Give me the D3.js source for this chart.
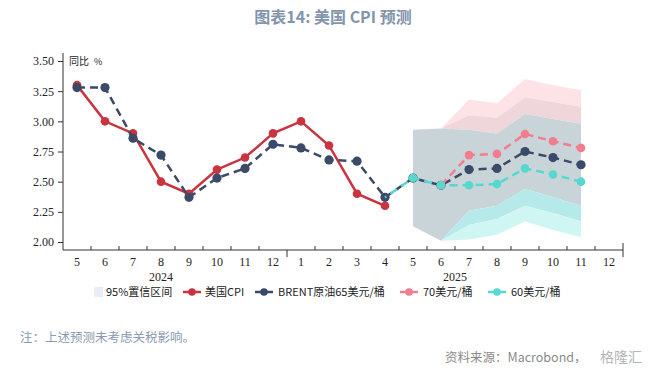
<!DOCTYPE html>
<html><head><meta charset="utf-8">
<script src="https://cdn.jsdelivr.net/npm/d3@7"></script>
<style>body{margin:0;background:#fff} svg{display:block}</style>
</head><body><svg id="c" width="666" height="378"></svg>
<script>
// ---------- data ----------
const months = ["5","6","7","8","9","10","11","12","1","2","3","4","5","6","7","8","9","10","11","12"];
const years = ["2024","2025"];
const yTicks = [2.00, 2.25, 2.50, 2.75, 3.00, 3.25, 3.50];
// actual CPI, 2024-05 .. 2025-04
const cpi = [3.3, 3.0, 2.9, 2.5, 2.4, 2.6, 2.7, 2.9, 3.0, 2.8, 2.4, 2.3];
// Brent 65 USD/bbl scenario, 2024-05 .. 2025-11
const brent65 = [3.28, 3.28, 2.86, 2.72, 2.37, 2.53, 2.61, 2.81, 2.78, 2.68, 2.67, 2.37, 2.53, 2.47, 2.60, 2.61, 2.75, 2.70, 2.64];
// 70 USD/bbl scenario, 2025-06 .. 2025-11
const start70 = 13;
const brent70 = [2.47, 2.72, 2.73, 2.895, 2.835, 2.78];
// 60 USD/bbl scenario, 2025-04 .. 2025-11
const start60 = 11;
const brent60 = [2.37, 2.53, 2.47, 2.47, 2.48, 2.61, 2.56, 2.50];
// 95% confidence bands, 2025-05 .. 2025-11
const bandStart = 12;
const band70Upper = [2.93, 2.94, 3.18, 3.15, 3.35, 3.30, 3.26];
const band70Lower = [2.13, 2.01, 2.26, 2.30, 2.44, 2.37, 2.30];
const band65Upper = [2.93, 2.94, 3.05, 3.03, 3.20, 3.16, 3.12];
const band65Lower = [2.13, 2.01, 2.14, 2.19, 2.30, 2.24, 2.17];
const band60Upper = [2.93, 2.94, 2.93, 2.90, 3.06, 3.02, 2.98];
const band60Lower = [2.13, 2.01, 2.02, 2.06, 2.17, 2.10, 2.04];
const legendLabels = ["95%置信区间", "美国CPI", "BRENT原油65美元/桶", "70美元/桶", "60美元/桶"];

// ---------- chart ----------
const svg = d3.select("#c");
const x = d3.scaleBand().domain(d3.range(months.length)).range([63, 623]).padding(0);
const bw = x.bandwidth();
const cx = i => x(i) + bw / 2;
const y = d3.scaleLinear().domain([2.0, 3.5]).range([242, 61]);
const axisY = 250;

const C = {
  red: "#c9343f", navy: "#3b4a68", pink: "#f27d8f", cyan: "#56d8cf",
  lpink: "#fde3e5", dpink: "#efd6db", grey: "#c9d4d8", dcyan: "#b6eaea", lcyan: "#d0f6f3",
  title: "#8395ab", note: "#8a9ab0"
};

// title
svg.append("text").attr("x", 333).attr("y", 23).attr("text-anchor", "middle")
  .attr("font-family", "Noto Sans CJK SC").attr("font-weight", "bold").attr("font-size", 16)
  .attr("fill", C.title).text("图表14: 美国 CPI 预测");

// bands as layered regions
const idxs = d3.range(band70Upper.length);
function region(lowArr, highArr, color) {
  const a = d3.area().x(i => cx(bandStart + i)).y0(i => y(lowArr[i])).y1(i => y(highArr[i]));
  svg.append("path").attr("d", a(idxs)).attr("fill", color);
}
region(band65Upper, band70Upper, C.lpink);
region(band60Upper, band65Upper, C.dpink);
region(band70Lower, band60Upper, C.grey);
region(band65Lower, band70Lower, C.dcyan);
region(band60Lower, band65Lower, C.lcyan);

// axes
const yAxis = d3.axisLeft(y).tickValues(yTicks).tickFormat(d3.format(".2f")).tickSize(5).tickSizeOuter(0);
const gy = svg.append("g").attr("transform", "translate(63,0)").call(yAxis);
gy.select(".domain").attr("d", `M0,53V${axisY}`);
gy.selectAll("text").attr("font-family", "Liberation Serif").attr("font-size", 12).attr("fill", "#222").attr("x", -9);
gy.selectAll("line,path").attr("stroke", "#333");

svg.append("line").attr("x1", 63).attr("x2", 623).attr("y1", axisY).attr("y2", axisY).attr("stroke", "#333");
// minor ticks at band boundaries
svg.selectAll(".mt").data(d3.range(1, months.length)).enter().append("line")
  .attr("x1", i => x(i)).attr("x2", i => x(i))
  .attr("y1", axisY).attr("y2", i => i === 8 ? axisY + 7 : axisY - 4).attr("stroke", "#333");
svg.append("line").attr("x1", 623).attr("x2", 623).attr("y1", axisY - 7).attr("y2", axisY + 7).attr("stroke", "#333");

svg.selectAll(".ml").data(months).enter().append("text")
  .attr("x", (d, i) => cx(i)).attr("y", 266).attr("text-anchor", "middle")
  .attr("font-family", "Liberation Serif").attr("font-size", 12).attr("fill", "#222").text(d => d);
svg.append("text").attr("x", cx(3)).attr("y", 281).attr("text-anchor", "middle")
  .attr("font-family", "Liberation Serif").attr("font-size", 12).attr("fill", "#222").text(years[0]);
svg.append("text").attr("x", x(14)).attr("y", 281).attr("text-anchor", "middle")
  .attr("font-family", "Liberation Serif").attr("font-size", 12).attr("fill", "#222").text(years[1]);

svg.append("text").attr("x", 69).attr("y", 65).attr("font-family", "Noto Sans CJK SC")
  .attr("font-size", 10).attr("fill", "#222").text("同比");
svg.append("text").attr("x", 94).attr("y", 65).attr("font-family", "Noto Sans CJK SC")
  .attr("font-size", 9).attr("fill", "#222").text("%");

// series
function series(vals, start, color, dashed, r, offset, markerFrom) {
  const pts = vals.map((v, k) => [cx(start + k), y(v)]);
  svg.append("path").attr("d", d3.line()(pts)).attr("fill", "none").attr("stroke", color)
    .attr("stroke-width", 2.5).attr("stroke-dasharray", dashed ? "8,5" : null)
    .attr("stroke-dashoffset", offset || 0);
  svg.append("g").selectAll("circle").data(pts.slice(markerFrom || 0)).enter().append("circle")
    .attr("cx", d => d[0]).attr("cy", d => d[1]).attr("r", r).attr("fill", color);
}
series(cpi, 0, C.red, false, 4.3);
series(brent65, 0, C.navy, true, 4.6);
series(brent70, start70, C.pink, true, 4.3);
series(brent60, start60, C.cyan, true, 4.3, 6.5, 1);

// legend
const ly = 292;
const lg = svg.append("g").attr("font-family", "Noto Sans CJK SC").attr("font-size", 11).attr("fill", "#222");
lg.append("rect").attr("x", 94).attr("y", ly - 5).attr("width", 9).attr("height", 10).attr("fill", "#e9edf5");
lg.append("text").attr("x", 106).attr("y", ly + 4).text(legendLabels[0]);
const items = [[183, 205, C.red, legendLabels[1]], [255, 278, C.navy, legendLabels[2]], [400, 423, C.pink, legendLabels[3]], [488, 511, C.cyan, legendLabels[4]]];
items.forEach(([x0, tx, col, lab]) => {
  lg.append("line").attr("x1", x0).attr("x2", x0 + 18).attr("y1", ly).attr("y2", ly).attr("stroke", col).attr("stroke-width", 2.5);
  lg.append("circle").attr("cx", x0 + 9).attr("cy", ly).attr("r", 3.8).attr("fill", col);
  lg.append("text").attr("x", tx).attr("y", ly + 4).text(lab);
});

// notes
svg.append("text").attr("x", 20).attr("y", 342).attr("font-family", "Noto Sans CJK SC")
  .attr("font-size", 12.5).attr("fill", C.note).text("注：上述预测未考虑关税影响。");
svg.append("text").attr("x", 445).attr("y", 362).attr("font-family", "Noto Sans CJK SC")
  .attr("font-size", 12.5).attr("fill", "#8a8a8a").text("资料来源：Macrobond，");
svg.append("text").attr("x", 600).attr("y", 362).attr("font-family", "Noto Sans CJK SC")
  .attr("font-size", 14).attr("fill", "#b5b5b5").text("格隆汇");
</script></body></html>
